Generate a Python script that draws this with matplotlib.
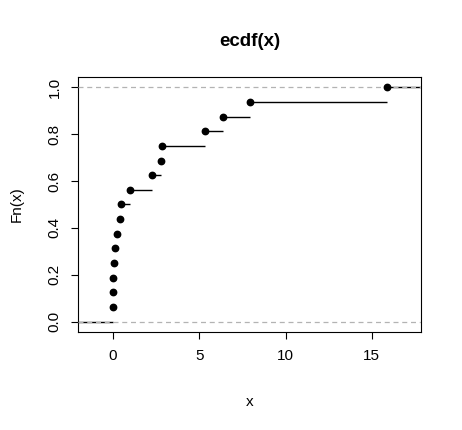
import numpy as np
import matplotlib.pyplot as plt

plt.rcParams['font.family'] = ['Liberation Sans', 'DejaVu Sans']

# sorted sample values (knots of the ecdf)
x_vals = [0.0, 0.01, 0.02, 0.06, 0.12, 0.2, 0.4, 0.47, 1.0,
          2.24, 2.76, 2.85, 5.35, 6.37, 7.95, 15.87]
n = len(x_vals)
fn_vals = [(i + 1) / n for i in range(n)]

fig = plt.figure(figsize=(4.62, 4.30), dpi=100)
ax = fig.add_axes([0.169, 0.228, 0.742, 0.593])

xlo, xhi = -2.03, 17.85
ax.set_xlim(xlo, xhi)
ax.set_ylim(-0.044, 1.044)

# step segments (outer ones run to the plot edge)
ax.hlines(0, xlo, x_vals[0], color='black', lw=1, zorder=2)
for i in range(n):
    x_end = x_vals[i + 1] if i < n - 1 else xhi
    ax.hlines(fn_vals[i], x_vals[i], x_end, color='black', lw=1, zorder=2)

# dashed reference lines at 0 and 1, drawn over the segments
ax.axhline(0, color='#b3b3b3', ls=(0, (4, 3)), lw=0.9, zorder=4)
ax.axhline(1, color='#b3b3b3', ls=(0, (4, 3)), lw=0.9, zorder=4)

ax.plot(x_vals, fn_vals, 'o', color='black', ms=4.6, zorder=5)

ax.set_xticks([0, 5, 10, 15])
ax.set_yticks([0.0, 0.2, 0.4, 0.6, 0.8, 1.0])
ax.set_yticklabels(['0.0', '0.2', '0.4', '0.6', '0.8', '1.0'], rotation=90, va='center')
ax.tick_params(direction='out', length=5, width=0.8, labelsize=11, pad=7)
for s in ax.spines.values():
    s.set_linewidth(0.8)

ax.set_xlabel('x', fontsize=11, labelpad=23)
ax.set_ylabel('Fn(x)', fontsize=11, labelpad=17)
ax.set_title('ecdf(x)', fontsize=13.5, fontweight='bold', pad=22)

fig.savefig('out.png', dpi=100)
